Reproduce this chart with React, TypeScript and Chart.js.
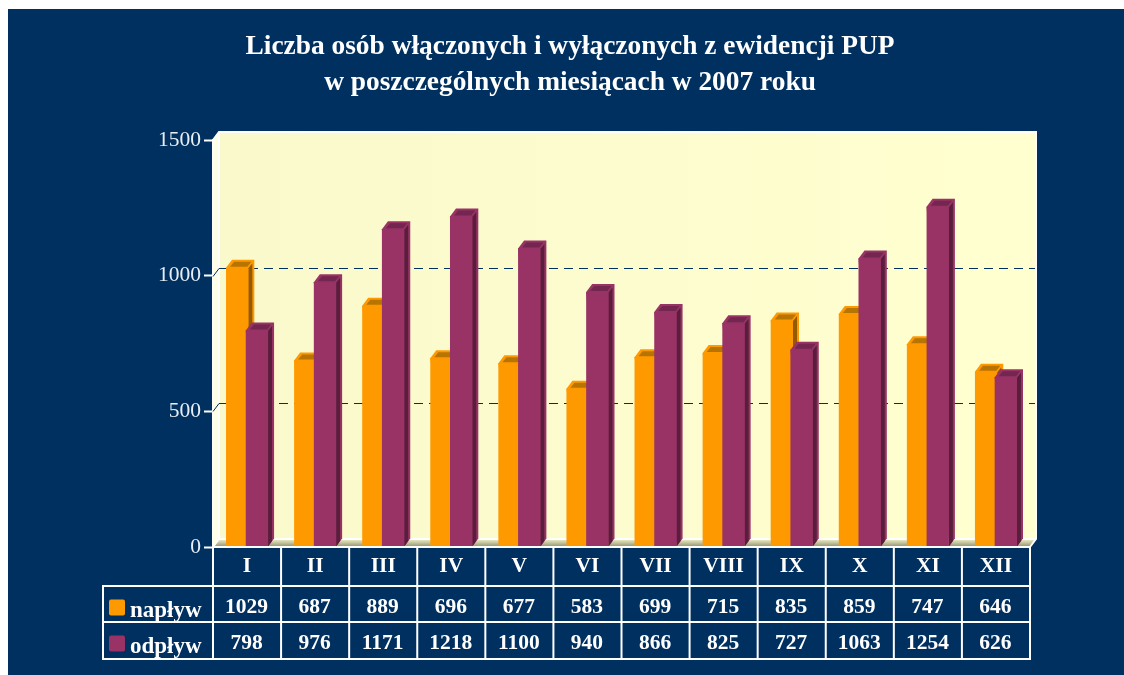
import React, { useEffect, useRef } from "react";
import { Chart, registerables } from "chart.js";

Chart.register(...registerables);

const categories = ["I", "II", "III", "IV", "V", "VI", "VII", "VIII", "IX", "X", "XI", "XII"];
const naplyw = [1029, 687, 889, 696, 677, 583, 699, 715, 835, 859, 747, 646];
const odplyw = [798, 976, 1171, 1218, 1100, 940, 866, 825, 727, 1063, 1254, 626];
const seriesNames = ["napływ", "odpływ"];
const titleLines = ["Liczba osób włączonych i wyłączonych z ewidencji PUP", "w poszczególnych miesiącach w 2007 roku"];
const gridValues = [500, 1000];

const NAVY = "#003060";
const SERIF = '"Liberation Serif", serif';
const DX = 6;
const DY = 8;
const palette = [
  { base: "#FF9900", side: "#945A00", top: "#B87400" },
  { base: "#993366", side: "#591E3B", top: "#732650" },
];
const rowLines = [586, 622, 659];
const tableLeft = 103;

function drawDepth(chart: any, index: number) {
  const { ctx } = chart;
  const c = palette[index];
  ctx.save();
  chart.getDatasetMeta(index).data.forEach((bar: any) => {
    const { x, y, base, width } = bar.getProps(["x", "y", "base", "width"], true);
    const l = x - width / 2, r = x + width / 2;
    ctx.fillStyle = c.base;
    ctx.beginPath();
    ctx.moveTo(l, y); ctx.lineTo(l + DX, y - DY); ctx.lineTo(r + DX, y - DY);
    ctx.lineTo(r + DX, base - DY); ctx.lineTo(r, base); ctx.closePath();
    ctx.fill();
    ctx.fillStyle = c.side;
    ctx.beginPath();
    ctx.moveTo(r, y + 0.5); ctx.lineTo(r + DX - 2, y - DY + 3.5); ctx.lineTo(r + DX - 2, base - DY + 2.5); ctx.lineTo(r, base);
    ctx.closePath(); ctx.fill();
    ctx.fillStyle = c.top;
    ctx.beginPath();
    ctx.moveTo(l + 4, y - 1); ctx.lineTo(l + DX + 2, y - DY + 2); ctx.lineTo(r + DX - 3, y - DY + 2);
    ctx.lineTo(r - 1, y - 1); ctx.closePath(); ctx.fill();
  });
  ctx.restore();
}

const scenePlugin = {
  id: "scene",
  beforeDraw(chart: any) {
    const { ctx, width, height } = chart;
    ctx.save();
    ctx.fillStyle = NAVY;
    ctx.fillRect(8, 9, width - 8, height - 9);
    ctx.restore();
  },
  beforeDatasetsDraw(chart: any) {
    const { ctx, chartArea: a, scales } = chart;
    ctx.save();
    const bl = a.left + DX, br = a.right + DX, bt = a.top - DY, bb = a.bottom - DY;
    const wall = ctx.createLinearGradient(bl, 0, br, 0);
    wall.addColorStop(0, "#FAF9CC");
    wall.addColorStop(1, "#FFFFD0");
    ctx.fillStyle = wall;
    ctx.fillRect(bl, bt, br - bl, bb - bt);
    ctx.fillStyle = "#FFFFE4";
    ctx.beginPath();
    ctx.moveTo(a.left, a.top); ctx.lineTo(bl, bt); ctx.lineTo(bl, bb); ctx.lineTo(a.left, a.bottom);
    ctx.closePath(); ctx.fill();
    const floor = ctx.createLinearGradient(0, bb, 0, a.bottom);
    floor.addColorStop(0, "#F4F4C8");
    floor.addColorStop(1, "#8E8E70");
    ctx.fillStyle = floor;
    ctx.beginPath();
    ctx.moveTo(a.left, a.bottom); ctx.lineTo(bl, bb); ctx.lineTo(br, bb); ctx.lineTo(a.right, a.bottom);
    ctx.closePath(); ctx.fill();

    ctx.strokeStyle = "#FFFFFF";
    ctx.lineWidth = 2;
    ctx.beginPath();
    ctx.moveTo(a.left, a.top); ctx.lineTo(bl, bt); ctx.lineTo(br + 1, bt);
    ctx.moveTo(br, bt); ctx.lineTo(br, bb); ctx.lineTo(a.right, a.bottom);
    ctx.moveTo(bl, bt); ctx.lineTo(bl, bb); ctx.lineTo(br, bb);
    ctx.moveTo(bl, bb); ctx.lineTo(a.left, a.bottom);
    ctx.stroke();

    ctx.strokeStyle = NAVY;
    ctx.lineWidth = 1;
    gridValues.forEach((v) => {
      const y = Math.round(scales.y.getPixelForValue(v)) + 0.5;
      ctx.setLineDash([]);
      ctx.beginPath();
      ctx.moveTo(a.left, y); ctx.lineTo(bl, y - DY);
      ctx.stroke();
      ctx.setLineDash([9, 6]);
      ctx.beginPath();
      ctx.moveTo(bl, y - DY); ctx.lineTo(br - 1, y - DY);
      ctx.stroke();
    });
    ctx.restore();

    // Paint the series left to right so the second one overlaps the first.
    [0, 1].forEach((i) => {
      drawDepth(chart, i);
      chart.getDatasetMeta(i).controller.draw();
    });
  },
  beforeDatasetDraw() {
    return false;
  },
  afterDraw(chart: any) {
    const { ctx, chartArea: a, scales } = chart;
    const colW = (a.right - a.left) / categories.length;
    ctx.save();
    ctx.strokeStyle = "#FFFFFF";
    ctx.lineWidth = 2;
    ctx.beginPath();
    ctx.moveTo(a.left, a.bottom); ctx.lineTo(a.right, a.bottom);
    rowLines.forEach((y) => { ctx.moveTo(tableLeft - 1, y); ctx.lineTo(a.right + 1, y); });
    ctx.moveTo(tableLeft, rowLines[0]); ctx.lineTo(tableLeft, rowLines[2]);
    for (let i = 0; i <= categories.length; i++) {
      const x = a.left + i * colW;
      ctx.moveTo(x, a.bottom - 1); ctx.lineTo(x, rowLines[2] + 1);
    }
    ctx.stroke();

    ctx.textBaseline = "middle";
    [naplyw, odplyw].forEach((vals, r) => {
      const cy = (rowLines[r] + rowLines[r + 1]) / 2 + 3;
      ctx.fillStyle = "#FFFFFF";
      ctx.font = `bold 21.5px ${SERIF}`;
      ctx.textAlign = "center";
      vals.forEach((v, i) => ctx.fillText(String(v), scales.x.getPixelForValue(i) - 0.5, cy));
      ctx.fillStyle = palette[r].base;
      ctx.beginPath();
      ctx.roundRect(109, rowLines[r] + 13.5, 16, 16, 2);
      ctx.fill();
      ctx.fillStyle = "#FFFFFF";
      ctx.font = `bold 23px ${SERIF}`;
      ctx.textAlign = "left";
      ctx.fillText(seriesNames[r], 130, rowLines[r] + 25);
    });
    ctx.restore();
  },
};

export default function App() {
  const ref = useRef<HTMLCanvasElement | null>(null);
  useEffect(() => {
    const chart = new Chart(ref.current as HTMLCanvasElement, {
      type: "bar",
      data: {
        labels: categories,
        datasets: [
          { label: seriesNames[0], data: naplyw, backgroundColor: palette[0].base },
          { label: seriesNames[1], data: odplyw, backgroundColor: palette[1].base },
        ],
      },
      options: {
        animation: false,
        responsive: false,
        datasets: { bar: { categoryPercentage: 0.579, barPercentage: 1.132 } },
        layout: { padding: { left: 110, right: 94, top: 0, bottom: 0 } },
        plugins: {
          legend: { display: false },
          tooltip: { enabled: false },
          title: {
            display: true,
            text: titleLines,
            color: "#FFFFFF",
            font: { family: SERIF, size: 27.4, weight: "bold", lineHeight: 36 / 27.4 },
            padding: { top: 29, bottom: 39 },
          },
        },
        scales: {
          x: {
            grid: { display: false },
            border: { display: false },
            afterFit: (s: any) => { s.height = 128; },
            ticks: {
              color: "#FFFFFF",
              padding: -1,
              maxRotation: 0,
              autoSkip: false,
              font: { family: SERIF, size: 21.5, weight: "bold" },
            },
          },
          y: {
            min: 0,
            max: 1500,
            afterFit: (s: any) => { s.width = 103; },
            grid: { drawOnChartArea: false, tickColor: "#FFFFFF", tickWidth: 2, tickLength: 9 },
            border: { color: "#FFFFFF", width: 2 },
            ticks: {
              stepSize: 500,
              color: "#E8EEF4",
              padding: 3,
              font: { family: SERIF, size: 21.5 },
              callback: (v: any) => String(v),
            },
          },
        },
      },
      plugins: [scenePlugin],
    } as any);
    return () => chart.destroy();
  }, []);
  return (
    <canvas
      ref={ref}
      width={1124}
      height={675}
      style={{ position: "absolute", left: 0, top: 0, display: "block" }}
    />
  );
}
